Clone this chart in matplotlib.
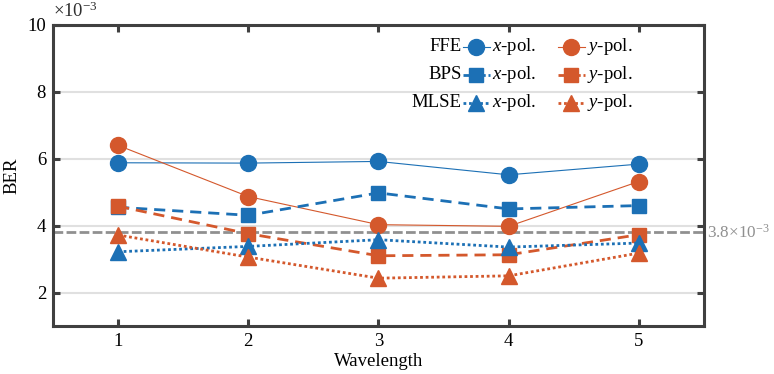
import matplotlib
matplotlib.use('Agg')
import matplotlib.pyplot as plt
from matplotlib.lines import Line2D

# BER values in units of 1e-3
wavelength = [1, 2, 3, 4, 5]
ffe_x = [5.88, 5.87, 5.92, 5.52, 5.84]
ffe_y = [6.40, 4.87, 4.03, 3.98, 5.32]
bps_x = [4.55, 4.31, 4.98, 4.50, 4.60]
bps_y = [4.58, 3.76, 3.10, 3.13, 3.73]
mlse_x = [3.22, 3.38, 3.58, 3.36, 3.48]
mlse_y = [3.72, 3.06, 2.43, 2.50, 3.18]
threshold = 3.8

BLUE = '#1c70b5'
ORANGE = '#d4582c'
GRAY = '#909090'
SPINE = '#404040'
FS = 13.5

plt.rcParams['font.family'] = ['Liberation Serif', 'DejaVu Serif']
plt.rcParams['mathtext.fontset'] = 'custom'
plt.rcParams['mathtext.rm'] = 'Liberation Serif'
plt.rcParams['mathtext.it'] = 'Liberation Serif:italic'
plt.rcParams['font.size'] = FS

fig = plt.figure(figsize=(7.74, 3.74), dpi=100)
ax = fig.add_axes([0.0685, 0.1283, 0.841, 0.805])

ax.axhline(threshold, color=GRAY, lw=2, dashes=(3.5, 1.2), zorder=1)

ax.plot(wavelength, ffe_x, color=BLUE, lw=0.8, marker='o', ms=11.5, zorder=3)
ax.plot(wavelength, ffe_y, color=ORANGE, lw=0.8, marker='o', ms=11.5, zorder=3)
ax.plot(wavelength, bps_x, color=BLUE, lw=2, ls=(0, (4, 2.5)), marker='s', ms=10, zorder=3)
ax.plot(wavelength, bps_y, color=ORANGE, lw=2, ls=(0, (4, 2.5)), marker='s', ms=10, zorder=3)
ax.plot(wavelength, mlse_x, color=BLUE, lw=2, ls=(0, (1, 1)), marker='^', ms=11.5, zorder=3)
ax.plot(wavelength, mlse_y, color=ORANGE, lw=2, ls=(0, (1, 1)), marker='^', ms=11.5, zorder=3)

ax.set_xlim(0.5, 5.5)
ax.set_ylim(1, 10)
ax.set_xticks(wavelength)
ax.set_yticks([2, 4, 6, 8, 10])
ax.yaxis.grid(True, color='#e0e0e0', lw=1.5)
ax.set_axisbelow(True)
for s in ax.spines.values():
    s.set_color(SPINE)
    s.set_linewidth(2.2)
ax.tick_params(direction='in', length=5, width=2.2, color=SPINE, top=True, right=True,
               labelsize=FS, pad=5)
ax.set_xlabel('Wavelength', fontsize=FS, labelpad=2)
ax.set_ylabel('BER', fontsize=FS, labelpad=5)

ax.text(0.0, 1.012, r'$\times10^{-3}$', transform=ax.transAxes, fontsize=FS,
        ha='left', va='bottom', color='#303030')
ax.text(1.005, threshold, r'3.8$\times10^{-3}$', transform=ax.get_yaxis_transform(),
        color=GRAY, fontsize=12.3, ha='left', va='center')

# manual legend
rows = [('FFE', 'o', 11.5, '-', 0.8), ('BPS', 's', 10, (0, (2, 1)), 2),
        ('MLSE', '^', 11.5, (0, (1, 1)), 2)]
row_y = [0.927, 0.834, 0.741]
cols = [(0.630, 0.671, BLUE, r'$x$-pol.'), (0.776, 0.817, ORANGE, r'$y$-pol.')]
for (name, mk, ms, ls, lw), yy in zip(rows, row_y):
    ax.text(0.628, yy, name, transform=ax.transAxes, ha='right', va='center', fontsize=FS)
    for x0, x1, c, lab in cols:
        ln = Line2D([x0, (x0 + x1) / 2, x1], [yy, yy, yy], transform=ax.transAxes,
                    color=c, marker=mk, ms=ms, ls=ls, lw=lw, markevery=[1], clip_on=False)
        ax.add_line(ln)
        ax.text(x1 + 0.004, yy, lab, transform=ax.transAxes, ha='left', va='center', fontsize=FS)

fig.savefig('out.png', dpi=100)
